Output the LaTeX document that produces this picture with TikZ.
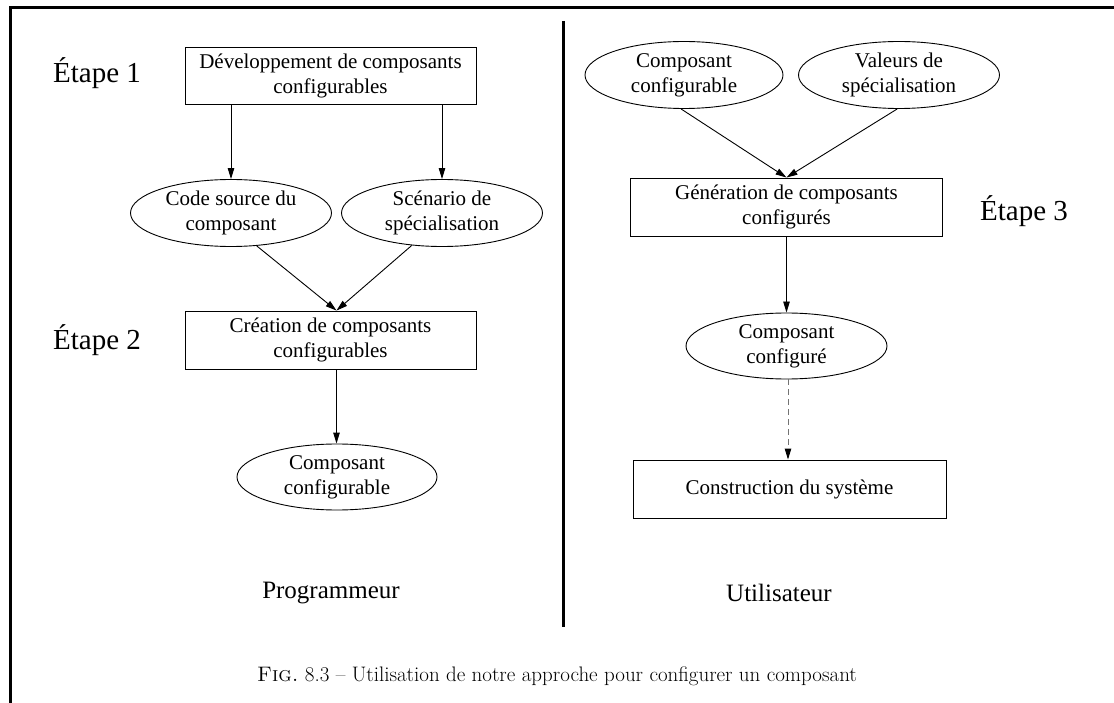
\documentclass[tikz,border=0pt]{standalone}
\usepackage{fontspec}
\newfontfamily\tnr{Liberation Serif}
\usetikzlibrary{shapes.geometric,arrows.meta}

\tikzset{
  txt/.style={font=\tnr\fontsize{21}{25}\selectfont, align=center, inner sep=0pt},
  stepbox/.style={txt, draw, line width=0.9pt, rectangle, minimum width=291pt, minimum height=57pt},
  databub/.style={txt, draw, line width=0.9pt, ellipse, minimum width=201pt, minimum height=67pt},
  stagelbl/.style={font=\tnr\fontsize{29}{33}\selectfont, inner sep=0pt},
  rolelbl/.style={font=\tnr\fontsize{25}{29}\selectfont, inner sep=0pt},
  flow/.style={line width=0.9pt, -{Triangle[length=11pt,width=6.5pt]}},
  later/.style={line width=0.9pt, draw=black!55, dash pattern=on 6pt off 4pt,
    -{Triangle[length=11pt,width=6.5pt,color=black]}},
}

\begin{document}
\begin{tikzpicture}[x=1pt,y=-1pt]
\useasboundingbox (0,0) rectangle (1114,703);

% frame and separator
\draw[line width=3pt] (1114,8) -- (10,8) -- (10,703);
\draw[line width=3pt] (563,21) -- (563,627);

% programmer side
\node[stagelbl] (s1) at (97,73) {Étape 1};
\node[stagelbl] (s2) at (97,340) {Étape 2};
\node[stepbox] (dev) at (330.5,75.5) {Développement de composants\\configurables};
\node[databub] (src) at (231,213) {Code source du\\composant};
\node[databub] (scn) at (442,213) {Scénario de\\spécialisation};
\node[stepbox, minimum height=58pt] (cre) at (330.5,340) {Création de composants\\configurables};
\node[databub, minimum width=200pt, minimum height=66pt] (cfg) at (337,477) {Composant\\configurable};
\node[rolelbl] (prog) at (331,593) {Programmeur};

\coordinate (meetL) at ([xshift=6pt]cre.north);
\draw[flow] (src.north |- dev.south) -- (src.north);
\draw[flow] (scn.north |- dev.south) -- (scn.north);
\draw[flow] (src.-52) -- (meetL);
\draw[flow] (scn.-133) -- (meetL);
\draw[flow] (meetL |- cre.south) -- (meetL |- cfg.north);

% user side
\node[databub, minimum width=198pt] (ccf) at (684,75) {Composant\\configurable};
\node[databub] (val) at (899,75) {Valeurs de\\spécialisation};
\node[stepbox, minimum width=312pt, minimum height=58pt] (gen) at (786.5,207) {Génération de composants\\configurés};
\node[stagelbl] (s3) at (1024,211) {Étape 3};
\node[databub, minimum height=66pt] (res) at (786.5,346) {Composant\\configuré};
\node[stepbox, minimum width=313pt, minimum height=58pt] (sys) at (789.5,489) {Construction du système};
\node[rolelbl] (user) at (779,593) {Utilisateur};

\coordinate (meetR) at (gen.north);
\draw[flow] (ccf.-95) -- (meetR);
\draw[flow] (val.-93) -- (meetR);
\draw[flow] (gen.south) -- (res.north);
\draw[later] ([xshift=1.5pt]res.south) -- ([xshift=1.5pt]res.south |- sys.north);

% caption
\node[font=\fontsize{21}{25}\selectfont, inner sep=0pt] (cap) at (557,676)
  {\textsc{Fig.}~8.3 -- Utilisation de notre approche pour configurer un composant};
\end{tikzpicture}
\end{document}
